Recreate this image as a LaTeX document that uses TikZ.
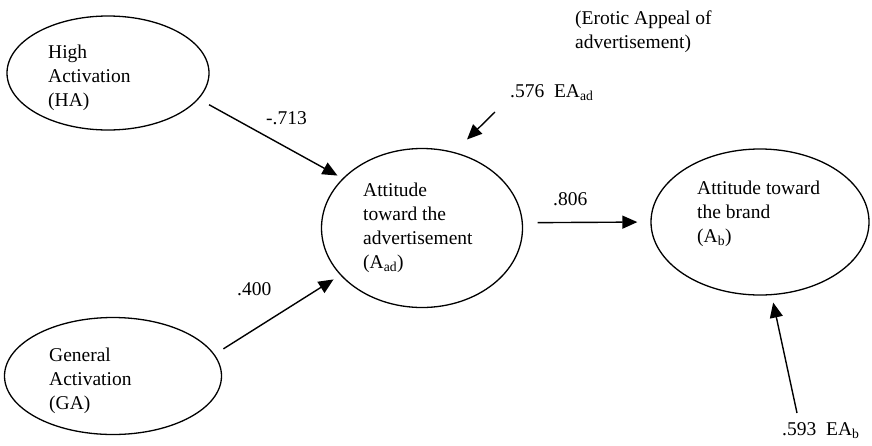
\documentclass[tikz,border=0pt]{standalone}
\usepackage{fontspec}
\setmainfont{Liberation Serif}
\usetikzlibrary{shapes.geometric,arrows.meta}
\begin{document}
\begin{tikzpicture}[x=1pt,y=-1pt,
  font=\fontsize{19.5}{24}\selectfont,
  latent/.style={draw, ellipse, line width=1.3pt, inner sep=0pt},
  txt/.style={inner sep=0pt, align=left, anchor=north west},
  lbl/.style={inner sep=0pt, anchor=base west},
  arr/.style={line width=1.4pt, -{Triangle[length=15pt,width=13pt]}}]
\useasboundingbox (0,0) rectangle (872,445);
% latent variables
\node[latent, minimum width=202pt, minimum height=114pt] (HA) at (108,73) {};
\node[latent, minimum width=217pt, minimum height=117pt] (GA) at (113,376) {};
\node[latent, minimum width=201pt, minimum height=159pt] (Aad) at (422,228) {};
\node[latent, minimum width=218pt, minimum height=146pt] (Ab) at (760,222) {};
% texts
\node[txt] (HAt) at (48,45) {High\\Activation\\(HA)};
\node[txt] (GAt) at (49,348) {General\\Activation\\(GA)};
\node[txt] (Aadt) at (363,183) {Attitude\\toward the\\advertisement\\(A\textsubscript{ad})};
\node[txt] (Abt) at (697,181) {Attitude toward\\the brand\\(A\textsubscript{b})};
\node[txt] (eroT) at (575,11) {(Erotic Appeal of\\advertisement)};
% coefficients
\node[lbl] (w1) at (266,124) {-.713};
\node[lbl] (w2) at (237,295) {.400};
\node[lbl] (w3) at (553,205) {.806};
\node[lbl] (e1) at (510,97) {.576\ \ EA\textsubscript{ad}};
\node[lbl] (e2) at (782,435) {.593\ \ EA\textsubscript{b}};
% error tails
\coordinate (e1t) at (495,112);
\coordinate (e2t) at (797,413);
% arrows
\draw[arr, shorten <=11.8pt, shorten >=5.8pt] (HA.-16.3) -- (Aad.148.9);
\draw[arr, shorten <=10.4pt, shorten >=7.9pt] (GA.12.7) -- (Aad.210.8);
\draw[arr, shorten <=14.8pt, shorten >=13pt] (Aad.3.4) -- (Ab.180);
\draw[arr, shorten >=17.9pt] (e1t) -- (Aad.67.6);
\draw[arr, shorten >=7.5pt] (e2t) -- (Ab.-81.9);
\end{tikzpicture}
\end{document}
